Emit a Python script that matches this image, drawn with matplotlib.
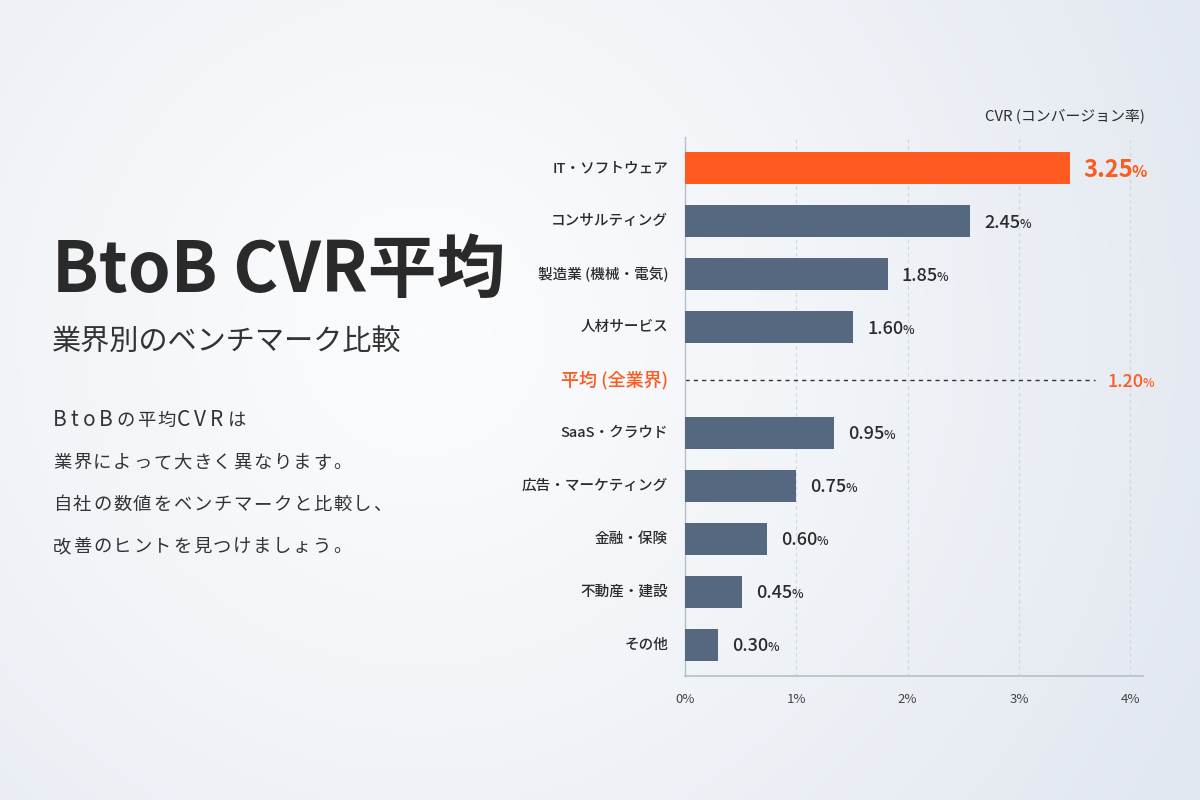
import matplotlib.pyplot as plt
import numpy as np

plt.rcParams['font.family'] = ['Noto Sans CJK JP', 'DejaVu Sans']

# data
categories = ["IT・ソフトウェア", "コンサルティング", "製造業 (機械・電気)", "人材サービス",
              "SaaS・クラウド", "広告・マーケティング", "金融・保険", "不動産・建設", "その他"]
bar_lengths = [3.46, 2.56, 1.82, 1.51, 1.34, 1.00, 0.74, 0.51, 0.30]
value_labels = ["3.25", "2.45", "1.85", "1.60", "0.95", "0.75", "0.60", "0.45", "0.30"]
row_pos = [0, 1, 2, 3, 5, 6, 7, 8, 9]
avg_row = 4
avg_label = "1.20"
avg_line_end = 3.68
x_ticks = [0, 1, 2, 3, 4]
tick_labels = ["0%", "1%", "2%", "3%", "4%"]

ORANGE = "#ff5a1f"
SLATE = "#56687f"
DARK = "#2b2b2b"

fig = plt.figure(figsize=(12, 8), dpi=100)

# background gradient
bg = fig.add_axes([0, 0, 1, 1], zorder=-10)
yy, xx = np.mgrid[0:800, 0:1200]
t = np.clip(np.hypot(xx - 420, yy - 330) / 900, 0, 1) ** 1.2
light = np.array([251, 252, 253]) / 255
blue = np.array([225, 231, 240]) / 255
img = light[None, None, :] * (1 - t[..., None]) + blue[None, None, :] * t[..., None]
bg.imshow(img, aspect='auto', extent=[0, 1, 0, 1])
bg.axis('off')

# chart axes: x from 685 to 1143 px, y from 137 to 676 px (from top)
ax = fig.add_axes([685 / 1200, 1 - 676 / 800, (1143 - 685) / 1200, (676 - 137) / 800])
ax.set_facecolor('none')
ax.set_xlim(0, 4.115)
ax.set_ylim(9.585, -0.585)

colors = [ORANGE] + [SLATE] * (len(categories) - 1)
ax.barh(row_pos, bar_lengths, height=0.6, color=colors, zorder=3)

for x in x_ticks[1:]:
    ax.axvline(x, color="#cfd5de", lw=0.8, ls=(0, (3, 3)), zorder=1)

for s in ['top', 'right']:
    ax.spines[s].set_visible(False)
ax.spines['left'].set_color("#b8bec8")
ax.spines['bottom'].set_color("#b8bec8")
ax.spines['left'].set_linewidth(1.0)
ax.spines['bottom'].set_linewidth(1.2)
ax.set_xticks(x_ticks)
ax.set_xticklabels(tick_labels, fontsize=9.5, color="#444444")
ax.tick_params(axis='x', length=0, pad=12)
ax.set_yticks([])

# category labels
for y, cat in zip(row_pos, categories):
    ax.annotate(cat, xy=(0, y), xytext=(-17, 0), textcoords='offset pixels',
                ha='right', va='center', fontsize=10.5, color=DARK, fontweight='medium')

# average row
ax.plot([0, avg_line_end], [avg_row, avg_row], color="#333333", lw=1.0,
        ls=(0, (3, 3)), zorder=2)
ax.annotate("平均 (全業界)", xy=(0, avg_row), xytext=(-17, 0), textcoords='offset pixels',
            ha='right', va='center', fontsize=13, color=ORANGE, fontweight='medium')

# value labels: number + smaller percent sign
fig.canvas.draw()
renderer = fig.canvas.get_renderer()


def value_text(x, y, num, size, color, weight, gap):
    t = ax.annotate(num, xy=(x, y), xytext=(gap, -size * 0.5), textcoords='offset pixels',
                    ha='left', va='baseline', fontsize=size, color=color, fontweight=weight)
    bb = t.get_window_extent(renderer)
    ax.annotate("%", xy=(x, y), xytext=(gap + bb.width - 1, -size * 0.5),
                textcoords='offset pixels', ha='left', va='baseline',
                fontsize=size * 0.68, color=color, fontweight=weight)


for i, (y, length, num) in enumerate(zip(row_pos, bar_lengths, value_labels)):
    if i == 0:
        value_text(length, y, num, 17, ORANGE, 'bold', 13)
    else:
        value_text(length, y, num, 13, DARK, 'medium', 14)
value_text(avg_line_end, avg_row, avg_label, 13, ORANGE, 'medium', 13)

# axis caption
fig.text(1145 / 1200, 1 - 116 / 800, "CVR (コンバージョン率)", ha='right', va='center',
         fontsize=10.7, color=DARK)

# left side text
fig.text(52 / 1200, 1 - 272 / 800, "BtoB CVR平均", ha='left', va='center',
         fontsize=49.5, fontweight='bold', color="#2a2a2a")
fig.text(52 / 1200, 1 - 343 / 800, "業界別のベンチマーク比較", ha='left', va='center',
         fontsize=21, color="#333333")

# body text, letter-spaced: full-width chars on a 20 px pitch, latin with tracking
body = ["BtoBの平均CVRは", "業界によって大きく異なります。",
        "自社の数値をベンチマークと比較し、", "改善のヒントを見つけましょう。"]
for i, line in enumerate(body):
    x_px = 53
    y_fig = 1 - (419 + 42 * i + 7) / 800   # shared baseline
    for ch in line:
        if ord(ch) > 0x2000:
            fig.text(x_px / 1200, y_fig, ch, ha='left', va='baseline',
                     fontsize=13.2, color="#333333")
            x_px += 20
        else:
            t = fig.text(x_px / 1200, y_fig, ch, ha='left', va='baseline',
                         fontsize=15, color="#333333")
            x_px += t.get_window_extent(renderer).width + 4

fig.savefig("out.png", dpi=100)
